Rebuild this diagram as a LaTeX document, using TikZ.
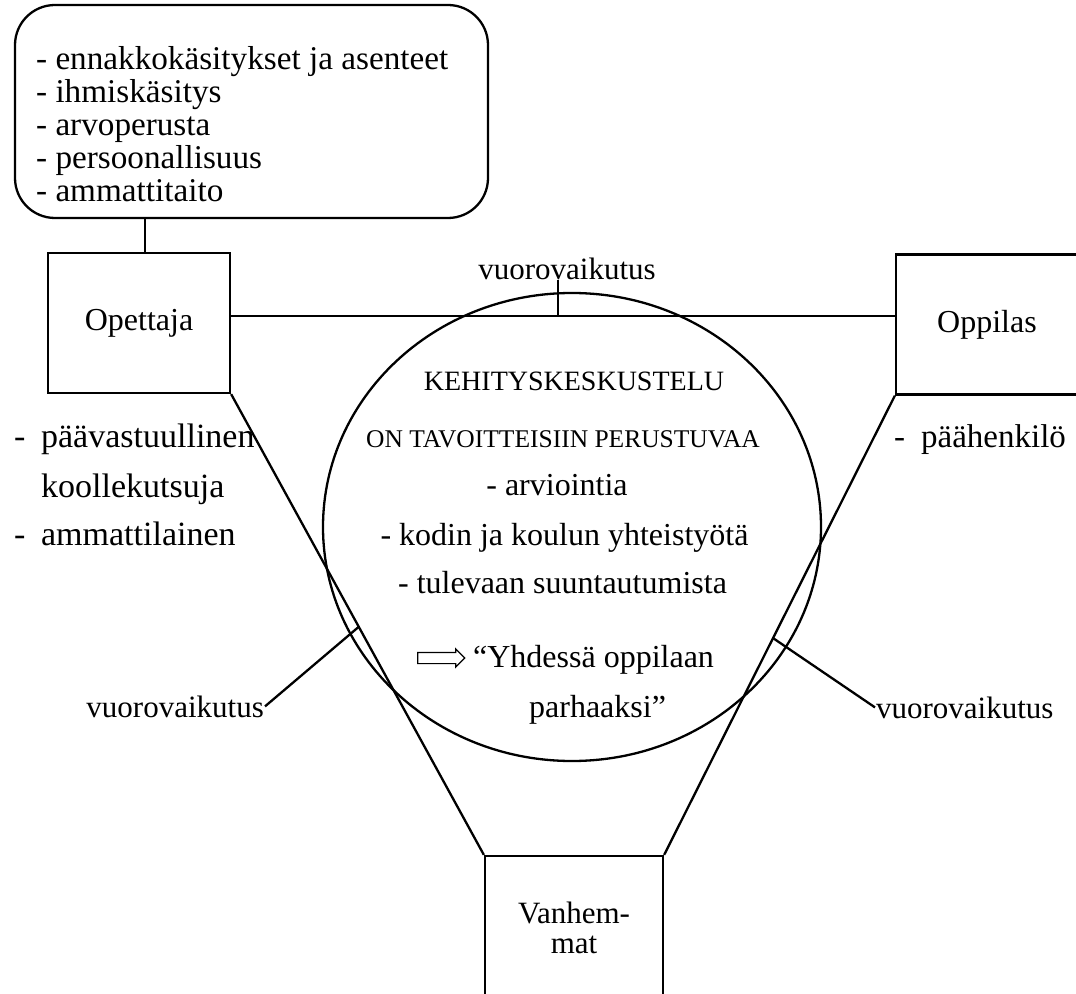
\documentclass[tikz,border=0pt]{standalone}
\usepackage{fontspec}
\setmainfont{Liberation Serif}
\usetikzlibrary{positioning,calc,shapes.geometric,shapes.arrows}

\begin{document}
\begin{tikzpicture}[x=0.5pt,y=-0.5pt,line width=1.15pt,every node/.style={font=\fontsize{16}{19}\selectfont}]
\tikzstyle{role}=[draw,minimum width=91pt,minimum height=70pt,align=center]
\tikzstyle{note}=[inner sep=0pt,anchor=base west]
\tikzstyle{aim}=[inner sep=0pt,anchor=base]
\tikzstyle{caption}=[inner sep=0pt,font=\fontsize{15.5}{18}\selectfont]
\useasboundingbox (0,0) rectangle (1076,994);
% the three parties
\node[draw,rounded corners=20pt,minimum width=236.5pt,minimum height=106.5pt] (views) at (251.5,111.5) {};
\node[inner sep=0pt,anchor=west,align=left,font=\fontsize{16.6}{16.5}\selectfont] (viewlist) at (35,124) {- ennakkokäsitykset ja asenteet\\- ihmiskäsitys\\- arvoperusta\\- persoonallisuus\\- ammattitaito};
\node[role] (teacher) at (139,323) {Opettaja};
\node[role] (pupil) at (987,324.5) {Oppilas};
\node[role,minimum width=89pt,minimum height=72pt,font=\fontsize{15.5}{15}\selectfont] (parents) at (574,928) {Vanhem-\\mat};
% the talk itself
\node[draw,ellipse,minimum width=249pt,minimum height=234pt,inner sep=0pt] (talk) at (572,527) {};
\node[aim,font=\fontsize{14}{16}\selectfont] (title) at (574,391) {KEHITYSKESKUSTELU};
\node[aim,font=\fontsize{12.75}{15}\selectfont] (subtitle) at (563,448) {ON TAVOITTEISIIN PERUSTUVAA};
\node[aim] (aim1) at (557,495) {- arviointia};
\node[aim] (aim2) at (564.5,545) {- kodin ja koulun yhteistyötä};
\node[aim] (aim3) at (562.5,593) {- tulevaan suuntautumista};
\node[single arrow,draw,line width=0.6pt,minimum height=23.5pt,inner sep=2.5pt,single arrow head extend=1.75pt] (hint) at (438.5,658) {};
\node[note] (motto) at (472,667) {“Yhdessä oppilaan};
\node[note] (motto2) at (528,717) {parhaaksi”};
% roles
\node[note,font=\fontsize{17}{17}\selectfont] (duty1) at (13,448) {\makebox[13.5pt][l]{-}päävastuullinen};
\node[note,font=\fontsize{17}{17}\selectfont] (duty2) at (13,497) {\hspace*{13.5pt}koollekutsuja};
\node[note,font=\fontsize{17}{17}\selectfont] (duty3) at (13,545) {\makebox[13.5pt][l]{-}ammattilainen};
\node[note,font=\fontsize{16.5}{17}\selectfont] (main) at (893,448) {\makebox[13.5pt][l]{-}päähenkilö};
% connectors
\draw ([xshift=3pt]teacher.north) -- ([xshift=3pt]teacher.north |- views.south);
\draw ([yshift=3.5pt]teacher.east) -- ([yshift=3.5pt]teacher.east -| pupil.west);
\draw (teacher.south east) -- (parents.north west);
\draw (pupil.south west) -- (parents.north east);
% interaction labels
\node[caption,anchor=base] (meettop) at (567,280) {vuorovaikutus};
\coordinate (tick) at (558,316);
\draw (tick) -- (tick |- meettop.base);
\node[caption,anchor=base east] (meetleft) at (265,717) {vuorovaikutus};
\node[caption,anchor=base west] (meetright) at (875,718) {vuorovaikutus};
\draw (meetleft.east) -- ($(teacher.south east)!0.505!(parents.north west)$);
\draw (meetright.west) -- ($(pupil.south west)!0.528!(parents.north east)$);
\end{tikzpicture}
\end{document}
